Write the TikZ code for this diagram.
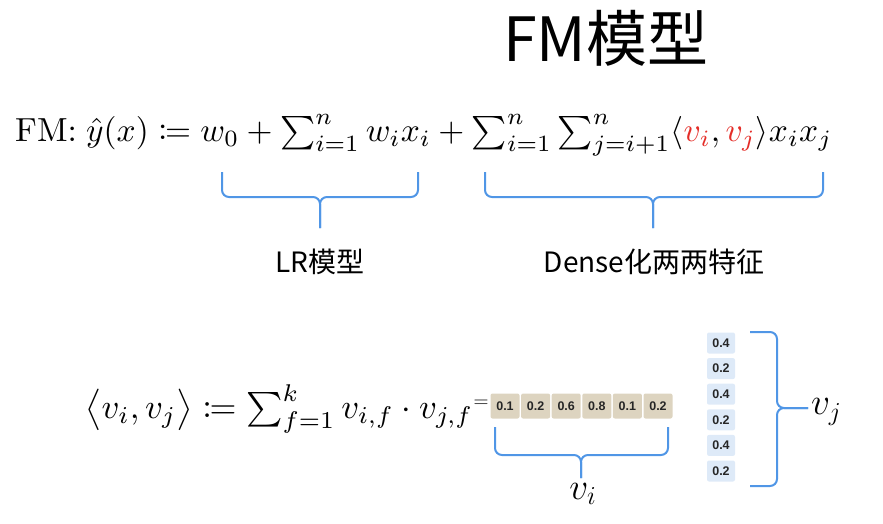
\documentclass[tikz,border=0pt]{standalone}
\usepackage{mathtools}
\usepackage{fontspec}
\newfontfamily\cjk{Noto Sans CJK SC}
\newfontfamily\cellfont{Liberation Sans}
\definecolor{bracecol}{RGB}{80,150,230}
\definecolor{tancol}{RGB}{221,212,192}
\definecolor{lightblue}{RGB}{222,234,248}
\definecolor{redv}{RGB}{228,45,40}
\tikzset{
  bracepath/.style={draw=bracecol, line width=2pt, rounded corners=7pt},
  tancell/.style={fill=tancol, rounded corners=2pt, minimum width=29pt, minimum height=25pt, inner sep=0pt, font=\cellfont\bfseries\fontsize{12.5}{13}\selectfont, text=black!85},
  bluecell/.style={fill=lightblue, rounded corners=2pt, minimum width=28pt, minimum height=21pt, inner sep=0pt, font=\cellfont\bfseries\fontsize{12.5}{13}\selectfont, text=black!85},
  cjklabel/.style={font=\cjk\fontsize{28}{30}\selectfont, inner sep=0pt},
  veclabel/.style={inner sep=0pt, font=\fontsize{20.74}{22}\selectfont}
}
\begin{document}
\begin{tikzpicture}[x=1pt,y=-1pt]
\useasboundingbox (0,0) rectangle (883,523);
% title
\node[anchor=west, inner sep=0pt, font=\cjk\fontsize{61}{64}\selectfont] (title) at (503,38) {FM模型};
% main formula
\node[anchor=west, inner sep=0pt] (fm) at (15,135) {\resizebox{817pt}{!}{$\mathrm{FM}{:}\;\hat{y}(x) \coloneqq w_0 + \sum\nolimits_{i=1}^{n} w_i x_i + \sum\nolimits_{i=1}^{n}\sum\nolimits_{j=i+1}^{n}\langle \textcolor{redv}{v_i}, \textcolor{redv}{v_j}\rangle x_i x_j$}};
% brace LR
\coordinate (lrL) at (222,172); \coordinate (lrR) at (418,172);
\coordinate (lrC) at (320,197); \coordinate (lrT) at (320,228);
\draw[bracepath] (lrL) |- (lrC) -- (lrT);
\draw[bracepath] (lrR) |- (lrC) -- (lrT);
\node[cjklabel] (lr) at (320,262) {LR模型};
% brace Dense
\coordinate (dL) at (485,172); \coordinate (dR) at (823,172);
\coordinate (dC) at (653,197); \coordinate (dT) at (653,228);
\draw[bracepath] (dL) |- (dC) -- (dT);
\draw[bracepath] (dR) |- (dC) -- (dT);
\node[cjklabel] (dense) at (654,262) {Dense化两两特征};
% second formula
\node[anchor=west, inner sep=0pt] (inner) at (85,409) {\resizebox{388pt}{!}{$\big\langle v_i, v_j\big\rangle \coloneqq \sum\nolimits_{f=1}^{k} v_{i,f}\cdot v_{j,f}$}};
\node[inner sep=0pt, font=\fontsize{20}{20}\selectfont] (eq) at (481,404) {$=$};
% horizontal vector v_i
\foreach \v [count=\k] in {0.1,0.2,0.6,0.8,0.1,0.2}{
  \node[tancell] (c\k) at ({505+30.6*(\k-1)},406) {\v};
}
\coordinate (viL) at (495,427); \coordinate (viR) at (668,427);
\coordinate (viC) at (581,455); \coordinate (viT) at (581,478);
\draw[bracepath] (viL) |- (viC) -- (viT);
\draw[bracepath] (viR) |- (viC) -- (viT);
\node[veclabel] (vi) at (583,494) {\scalebox{1.8}{$v_i$}};
% vertical vector v_j
\foreach \v [count=\k] in {0.4,0.2,0.4,0.2,0.4,0.2}{
  \node[bluecell] (b\k) at (721,{343+25.6*(\k-1)}) {\v};
}
\coordinate (vjT) at (750,332); \coordinate (vjB) at (750,486);
\coordinate (vjC) at (777,408); \coordinate (vjR) at (808,408);
\draw[bracepath] (vjT) -| (vjC) -- (vjR);
\draw[bracepath] (vjB) -| (vjC) -- (vjR);
\node[veclabel, anchor=west] (vj) at (811,412) {\scalebox{1.8}{$v_j$}};
\end{tikzpicture}
\end{document}
